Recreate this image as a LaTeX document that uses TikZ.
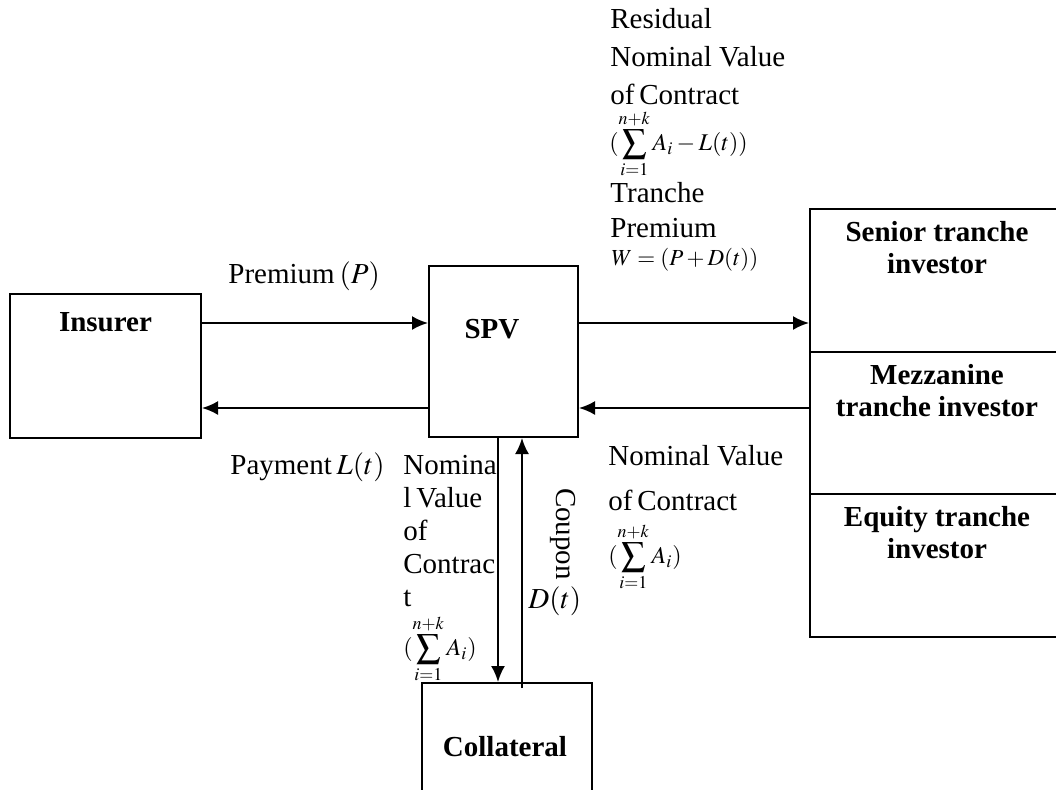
\documentclass[tikz,border=0pt]{standalone}
\usepackage[no-math]{fontspec}
\usepackage{mathptmx}
\setmainfont{Liberation Serif}
\usetikzlibrary{arrows.meta}
\usetikzlibrary{positioning}

\begin{document}
\begin{tikzpicture}[x=0.5pt,y=-0.5pt,
	box/.style={draw,line width=1pt,inner sep=0pt},
	txt/.style={inner sep=0pt,font=\fontsize{14.5}{16.5}\selectfont,align=left},
	bold/.style={inner sep=0pt,font=\fontsize{14.5}{16}\selectfont\bfseries,align=center},
	small/.style={inner sep=0pt,font=\fontsize{11.5}{13}\selectfont},
	sums/.style={inner sep=0pt,font=\fontsize{12}{14}\selectfont},
	flow/.style={line width=1pt,-{Latex[length=8pt,width=7pt]}}]
					\clip (0,0) rectangle (1056,789);

					\node[box,minimum width=95.5pt,minimum height=72pt] (ins) at (105.5,365.5) {};
					\node[box,minimum width=74.5pt,minimum height=85.5pt] (spv) at (503.5,351.5) {};
					\node[box,minimum width=127pt,minimum height=71.5pt] (sen) at (937,280.5) {};
					\node[box,minimum width=127pt,minimum height=71pt] (mez) at (937,423) {};
					\node[box,minimum width=127pt,minimum height=71.5pt] (equ) at (937,565.5) {};
					\node[box,minimum width=85pt,minimum height=73.5pt] (col) at (507,756.5) {};

					\node[bold,below=10pt of ins.north] {Insurer};
					\node[bold] at (492,329) {SPV};
					\node[bold,below=6.5pt of sen.north] {Senior tranche\\investor};
					\node[bold,below=6.5pt of mez.north] {Mezzanine\\tranche investor};
					\node[bold,below=6.5pt of equ.north] {Equity tranche\\investor};
					\node[bold] at (505,747) {Collateral};

					\coordinate (topy) at (0,323);
					\coordinate (boty) at (0,408);
					\coordinate (nomx) at (498,0);
					\coordinate (coup) at (522,688);

					\draw[flow] (ins.east |- topy) -- (spv.west |- topy);
					\draw[flow] (spv.west |- boty) -- (ins.east |- boty);
					\draw[flow] (spv.east |- topy) -- (sen.west |- topy);
					\draw[flow] (mez.west |- boty) -- (spv.east |- boty);
					\draw[flow] (spv.south -| nomx) -- (col.north -| nomx);
					\draw[flow] (coup) -- (spv.south -| coup);

					\node[txt,anchor=base west] at (228,283) {Premium\,$(P)$};
					\node[txt,anchor=base west] at (230,474) {Payment\,$L(t)$};

					\node[txt,anchor=north west,font=\fontsize{14.5}{19}\selectfont] at (610,8) {Residual\\Nominal Value\\of\,Contract};
					\node[sums,anchor=west] at (609,144) {$\displaystyle(\sum_{i=1}^{n+k}A_i-L(t))$};
					\node[txt,anchor=north west,font=\fontsize{14.5}{17.5}\selectfont] at (610,182) {Tranche\\Premium};
					\node[small,anchor=west] at (611,260) {$W=(P+D(t))$};

					\node[txt,anchor=north west] at (403,455) {Nomina\\l\,Value\\of\\Contrac\\t};
					\node[sums,anchor=west] at (403,649) {$\displaystyle(\sum_{i=1}^{n+k}A_i)$};
					\node[txt,rotate=-90] at (563,534) {Coupon};
					\node[txt,anchor=base west] at (528,608) {$D(t)$};

					\node[txt,anchor=north west,font=\fontsize{14.5}{22.5}\selectfont] at (608,445) {Nominal Value\\of\,Contract};
					\node[sums,anchor=west] at (608,557) {$\displaystyle(\sum_{i=1}^{n+k}A_i)$};

				\end{tikzpicture}
\end{document}
